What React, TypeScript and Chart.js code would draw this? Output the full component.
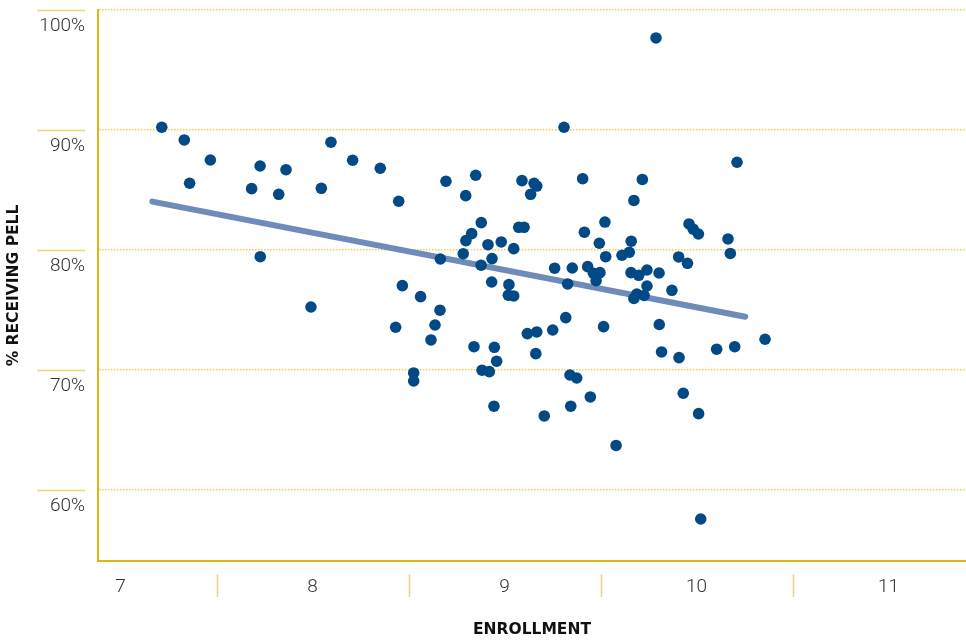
import React, { useEffect, useRef } from "react";
import { Chart, registerables } from "chart.js";

Chart.register(...registerables);

// Enrollment (log scale units) vs % receiving Pell
const enrollment = [
  7.215, 7.332, 7.36, 7.468, 7.683, 7.727, 7.824, 7.862, 7.728, 8.096,
  8.046, 8.209, 7.992, 8.353, 8.449, 8.468, 8.563, 8.433, 8.527, 8.527,
  8.617, 8.638, 8.664, 8.666, 8.695, 8.798, 8.85, 8.785, 8.799, 8.829,
  8.879, 8.914, 8.935, 8.878, 8.983, 9.048, 8.933, 8.841, 8.947, 8.959,
  8.883, 8.921, 8.945, 9.023, 9.02, 9.048, 9.091, 9.154, 9.168, 9.136,
  9.074, 9.102, 9.119, 9.168, 9.163, 9.207, 9.251, 9.261, 9.31, 9.319,
  9.329, 9.353, 9.341, 9.376, 9.345, 9.407, 9.416, 9.433, 9.447, 9.463,
  9.497, 9.477, 9.494, 9.523, 9.527, 9.516, 9.581, 9.612, 9.65, 9.66,
  9.659, 9.699, 9.742, 9.674, 9.718, 9.789, 9.689, 9.674, 9.727, 9.742,
  9.805, 9.806, 9.818, 9.872, 9.907, 9.953, 9.909, 9.931, 9.961, 9.983,
  10.01, 10.011, 10.022, 10.105, 10.164, 10.176, 10.199, 10.211, 10.357,
];
const pellPct = [
  90.23, 89.17, 85.56, 87.5, 85.11, 87.0, 84.64, 86.69, 79.44, 88.98,
  85.14, 87.48, 75.25, 86.81, 84.06, 77.03, 76.11, 73.56, 69.75, 69.08,
  72.5, 73.75, 74.98, 79.25, 85.73, 84.53, 86.23, 79.69, 80.78, 81.36,
  82.28, 80.44, 79.28, 78.73, 80.67, 80.11, 77.33, 71.94, 71.89, 70.73,
  69.98, 69.86, 66.98, 77.11, 76.23, 76.17, 85.78, 85.56, 85.33, 84.64,
  81.89, 81.89, 73.03, 73.17, 71.36, 66.17, 73.33, 78.48, 90.23, 74.36,
  77.17, 78.5, 69.58, 69.33, 66.98, 85.94, 81.48, 78.61, 67.75, 78.06,
  78.11, 77.44, 80.56, 82.33, 79.44, 73.61, 63.71, 79.56, 79.81, 80.73,
  78.11, 77.89, 78.33, 84.13, 85.88, 97.67, 76.33, 75.96, 76.21, 77.0,
  78.08, 73.79, 71.5, 76.64, 79.42, 78.89, 71.03, 68.06, 82.17, 81.73,
  81.33, 66.36, 57.58, 71.73, 80.92, 79.71, 71.94, 87.31, 72.56,
];

// Trend line end points
const trendX = [7.166, 10.254];
const trendY = [84.03, 74.44];

// Axis ticks
const xTickValues = [7, 8, 9, 10, 11];
const xTickMarks = [7.5, 8.5, 9.5, 10.5];
const yTickValues = [60, 70, 80, 90, 100];

const X_MIN = 6.8828;
const X_MAX = 11.4036;
const Y_MIN = 54.08;
const Y_MAX = 100;

const GOLD = "#dfb50f";
const GOLD_LIGHT = "#efd478";
const DOT = "#024a86";
const TREND = "#6f8bba";
const TICK_FONT = "'Roboto', 'Open Sans', sans-serif";
const TITLE_FONT = "'DejaVu Sans', 'Liberation Sans', sans-serif";

const tickMarksPlugin = {
  id: "tickMarks",
  afterDraw(chart: any) {
    const { ctx } = chart;
    const xs = chart.scales.x;
    const ys = chart.scales.y;
    ctx.save();
    ctx.strokeStyle = GOLD_LIGHT;
    ctx.lineWidth = 1.5;
    ctx.beginPath();
    for (const v of xTickMarks) {
      const px = Math.round(xs.getPixelForValue(v)) + 0.5;
      ctx.moveTo(px, xs.top + 13);
      ctx.lineTo(px, xs.top + 36);
    }
    for (const v of yTickValues) {
      const py = Math.round(ys.getPixelForValue(v)) + 0.5;
      ctx.moveTo(37, py);
      ctx.lineTo(ys.right - 13, py);
    }
    ctx.stroke();
    ctx.restore();
  },
};

export default function App() {
  const ref = useRef<HTMLCanvasElement | null>(null);

  useEffect(() => {
    document.body.style.margin = "0";
    if (!ref.current) return;
    const points = enrollment.map((x, i) => ({ x, y: pellPct[i] }));
    const trend = trendX.map((x, i) => ({ x, y: trendY[i] }));
    const chart = new Chart(ref.current, {
      type: "scatter",
      data: {
        datasets: [
          {
            data: points,
            pointRadius: 5.8,
            pointHoverRadius: 5.8,
            pointBackgroundColor: DOT,
            pointBorderWidth: 0,
            backgroundColor: DOT,
          },
          {
            data: trend,
            showLine: true,
            borderColor: TREND,
            borderWidth: 6,
            borderCapStyle: "round",
            pointRadius: 0,
            pointHoverRadius: 0,
          } as any,
        ],
      },
      options: {
        animation: false,
        responsive: false,
        layout: { autoPadding: false, padding: { top: 10, left: 0, right: 0, bottom: 0 } },
        plugins: { legend: { display: false }, tooltip: { enabled: false } },
        scales: {
          x: {
            type: "linear",
            min: X_MIN,
            max: X_MAX,
            afterBuildTicks: (s: any) => {
              s.ticks = xTickValues.map((v) => ({ value: v }));
            },
            afterFit: (s: any) => {
              s.height = 80;
              s.paddingLeft = 0;
              s.paddingRight = 0;
            },
            grid: { display: false, drawTicks: false },
            border: { display: true, color: GOLD, width: 2 },
            ticks: {
              padding: 15,
              color: "#333333",
              maxRotation: 0,
              autoSkip: false,
              font: { family: TICK_FONT, size: 19, weight: 300 as any },
              callback: (v: any) => String(v),
            },
            title: {
              display: true,
              text: "ENROLLMENT",
              color: "#111111",
              padding: { top: 2, bottom: 2 },
              font: { family: TITLE_FONT, size: 15.5, weight: "bold" as any },
            },
          },
          y: {
            type: "linear",
            min: Y_MIN,
            max: Y_MAX,
            afterBuildTicks: (s: any) => {
              s.ticks = yTickValues.map((v) => ({ value: v }));
            },
            afterFit: (s: any) => {
              s.width = 98;
              s.paddingTop = 0;
              s.paddingBottom = 0;
            },
            grid: { display: true, drawTicks: false, color: "#f0cf55", lineWidth: 1.5 },
            border: { display: true, color: GOLD, width: 2, dash: [1.5, 1.5] },
            ticks: {
              padding: 13,
              labelOffset: 16,
              color: "#333333",
              font: { family: TICK_FONT, size: 19, weight: 300 as any },
              callback: (v: any) => v + "%",
            },
            title: {
              display: true,
              text: "% RECEIVING PELL",
              color: "#111111",
              padding: { top: 5, bottom: 2 },
              font: { family: TITLE_FONT, size: 15.5, weight: "bold" as any },
            },
          },
        },
      },
      plugins: [tickMarksPlugin],
    });
    return () => chart.destroy();
  }, []);

  return (
    <div style={{ position: "fixed", left: 0, top: 0, width: 966, height: 641 }}>
      <canvas ref={ref} width={966} height={641} />
    </div>
  );
}
